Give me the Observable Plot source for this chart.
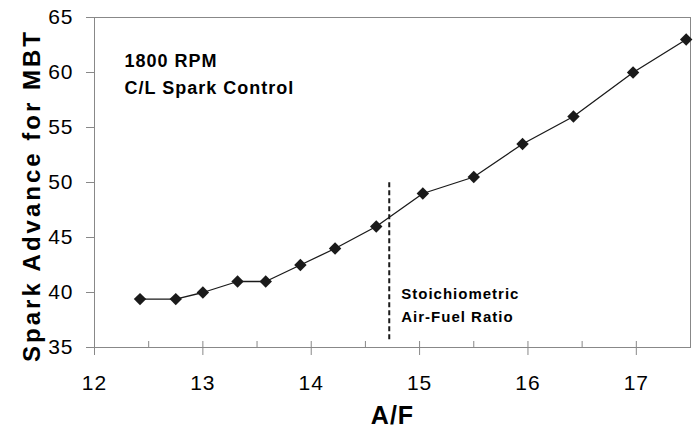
<!DOCTYPE html>
<html>
<head>
<meta charset="utf-8">
<script src="https://cdn.jsdelivr.net/npm/d3@7"></script>
<script src="https://cdn.jsdelivr.net/npm/@observablehq/plot@0.6"></script>
<style>
  html, body { margin: 0; padding: 0; background: #fff; }
  svg text { letter-spacing: 1px; }
  g.ylab text { letter-spacing: 3px; }
</style>
</head>
<body>
<div id="chart"></div>
<script>
// Data
const airFuel = [12.42, 12.75, 13.0, 13.32, 13.58, 13.9, 14.22, 14.6, 15.03, 15.5, 15.95, 16.42, 16.97, 17.46];
const sparkAdvance = [39.4, 39.4, 40, 41, 41, 42.5, 44, 46, 49, 50.5, 53.5, 56, 60, 63];
const xTicks = [12, 13, 14, 15, 16, 17];
const xMinorTicks = [12, 12.5, 13, 13.5, 14, 14.5, 15, 15.5, 16, 16.5, 17, 17.5];
const yTicks = [35, 40, 45, 50, 55, 60, 65];
const stoichAF = [14.72];
const stoichRange = [35.7, 50];
const xLabel = "A/F";
const yLabel = "Spark Advance for MBT";
const noteText = ["1800 RPM\nC/L Spark Control"];
const stoichText = ["Stoichiometric\nAir-Fuel Ratio"];
const stoichTextY = 40.9;

const data = airFuel.map((x, i) => ({x, y: sparkAdvance[i]}));
const fmt = d3.format("d");

const chart = Plot.plot({
  width: 699,
  height: 429,
  marginLeft: 94,
  marginRight: 9,
  marginTop: 17,
  marginBottom: 82,
  style: {fontFamily: "'Liberation Sans', Arial, sans-serif", background: "#fff", color: "#000"},
  x: {domain: [12, 17.5]},
  y: {domain: [35, 65]},
  marks: [
    Plot.frame({stroke: "#888"}),
    Plot.axisY({ticks: yTicks, tickSize: 8, tickPadding: 13, tickFormat: fmt, fontSize: 21, label: null, stroke: "#888", fill: "#000"}),
    Plot.axisX({ticks: xTicks, tickSize: 8, tickPadding: 20, tickFormat: fmt, fontSize: 21, label: null, stroke: "#888", fill: "#000"}),
    Plot.axisX({ticks: xMinorTicks, tickSize: 6, dy: -6, tickFormat: () => "", label: null, stroke: "#888"}),
    Plot.ruleX(stoichAF, {x: d => d, y1: stoichRange[0], y2: stoichRange[1], stroke: "#1a1a1a", strokeWidth: 2, strokeDasharray: "5,3"}),
    Plot.line(data, {x: "x", y: "y", stroke: "#1a1a1a", strokeWidth: 1.3}),
    Plot.dot(data, {x: "x", y: "y", symbol: "diamond2", r: 5.6, fill: "#1a1a1a", stroke: "none"}),
    Plot.text(noteText, {frameAnchor: "top-left", dx: 30, dy: 30, lineAnchor: "top", textAnchor: "start", fontSize: 18, fontWeight: "bold", lineHeight: 1.5, fill: "#000"}),
    Plot.text(stoichText, {x: () => stoichAF[0], y: () => stoichTextY, dx: 12, lineAnchor: "top", textAnchor: "start", fontSize: 15, fontWeight: "bold", lineHeight: 1.53, fill: "#000"}),
    Plot.text([xLabel], {frameAnchor: "bottom", dy: 76, lineAnchor: "bottom", textAnchor: "middle", fontSize: 25, fontWeight: "bold", fill: "#000"}),
    Plot.text([yLabel], {frameAnchor: "left", dx: -62, dy: 13, rotate: -90, lineAnchor: "middle", textAnchor: "middle", fontSize: 24, fontWeight: "bold", fill: "#000"})
  ]
});

document.getElementById("chart").appendChild(chart);
// mark the y-label group for wider letter spacing
d3.select(chart).selectAll("g[aria-label='text']").filter(function() {
  return d3.select(this).text() === yLabel;
}).classed("ylab", true);
</script>
</body>
</html>
